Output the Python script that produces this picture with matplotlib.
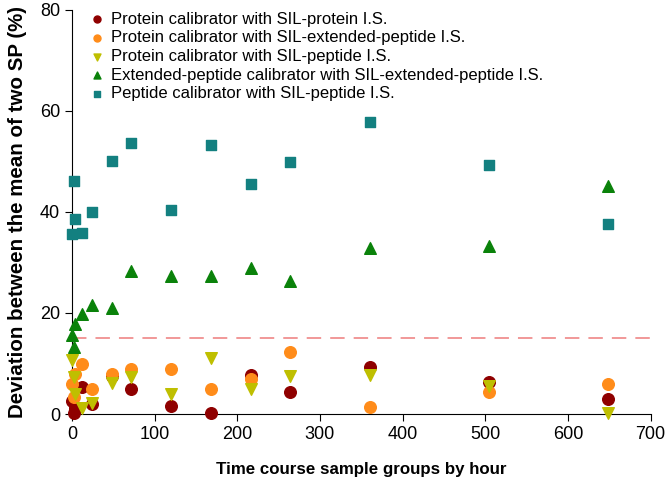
import matplotlib.pyplot as plt

plt.rcParams['font.family'] = ['Liberation Sans', 'DejaVu Sans']

# sampling times (hours)
hours = [0, 2, 4, 12, 24, 48, 72, 120, 168, 216, 264, 360, 504, 648]

# deviation (%) per calibrator / I.S. combination
protein_sil_protein = [2.6, 0.2, 1.1, 5.3, 2.0, 7.6, 4.9, 1.5, 0.3, 7.8, 4.4, 9.4, 6.4, 3.0]
protein_sil_ext = [5.9, 3.4, 7.9, 10.0, 4.9, 7.9, 9.0, 9.0, 4.9, 7.0, 12.2, 1.3, 4.4, 5.9]
protein_sil_pep = [10.6, 7.4, 4.0, 1.2, 2.2, 6.1, 7.3, 4.0, 11.1, 4.9, 7.6, 7.7, 5.5, 0.3]
ext_sil_ext = [15.6, 13.2, 17.8, 19.8, 21.6, 20.9, 28.4, 27.3, 27.3, 29.0, 26.4, 32.9, 33.3, 45.2]
pep_sil_pep = [35.6, 46.2, 38.6, 35.8, 39.9, 50.0, 53.6, 40.3, 53.3, 45.5, 49.8, 57.8, 49.3, 37.7]

labels = ['Protein calibrator with SIL-protein I.S.',
          'Protein calibrator with SIL-extended-peptide I.S.',
          'Protein calibrator with SIL-peptide I.S.',
          'Extended-peptide calibrator with SIL-extended-peptide I.S.',
          'Peptide calibrator with SIL-peptide I.S.']

acceptance = 15

fig = plt.figure(figsize=(6.66, 4.90), dpi=100)
ax = fig.add_axes([0.108, 0.155, 0.869, 0.825])

ax.axhline(acceptance, color='#f09090', lw=1.3, dashes=(8, 5))

kw = dict(zorder=3, clip_on=False)
ax.scatter(hours, protein_sil_protein, s=70, marker='o', color='#8f0000', label=labels[0], **kw)
ax.scatter(hours, protein_sil_ext, s=70, marker='o', color='#ff8c1a', label=labels[1], **kw)
ax.scatter(hours, protein_sil_pep, s=70, marker='v', color='#bfbf00', label=labels[2], **kw)
ax.scatter(hours, ext_sil_ext, s=70, marker='^', color='#0a820a', label=labels[3], **kw)
ax.scatter(hours, pep_sil_pep, s=55, marker='s', color='#138080', label=labels[4], **kw)

ax.set_xlim(0, 700)
ax.set_ylim(0, 80)
ax.set_xticks(range(0, 701, 100))
ax.set_yticks(range(0, 81, 20))
ax.spines['top'].set_visible(False)
ax.spines['right'].set_visible(False)
ax.tick_params(labelsize=13, length=5, direction='out')

ax.set_xlabel('Time course sample groups by hour', fontsize=12.2, fontweight='bold', labelpad=14)
ax.set_ylabel('Deviation between the mean of two SP (%)', fontsize=14.8, fontweight='bold', labelpad=9)

ax.legend(loc='upper left', bbox_to_anchor=(0.012, 1.02), frameon=False, fontsize=12,
          markerscale=0.6, handlelength=1.0, handletextpad=0.35, labelspacing=0.22,
          borderaxespad=0.2)

fig.savefig('out.png', dpi=100)
